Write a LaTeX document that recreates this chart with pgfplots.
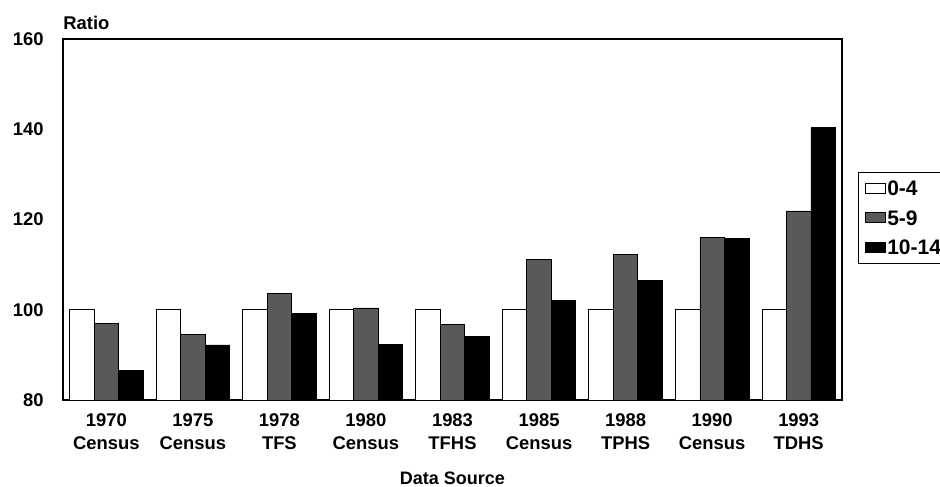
\documentclass[border=0pt]{standalone}
\usepackage{fontspec}
\setmainfont{Liberation Sans}
\usepackage{pgfplots}
\pgfplotsset{compat=1.18}
\usetikzlibrary{calc}
\pgfplotstableread{
x a b c
0 100 97.0 86.5
1 100 94.6 92.2
2 100 103.7 99.1
3 100 100.4 92.4
4 100 96.7 94.1
5 100 111.2 102.0
6 100 112.2 106.4
7 100 116.0 115.7
8 100 121.9 140.3
}\datatable
\pgfplotsset{mylegend/.style={legend image code/.code={\draw[##1, line width=0.4pt] (0pt,-2.5pt) rectangle (10pt,2.5pt);}}}
\begin{document}
\begin{tikzpicture}
\begin{axis}[
  name=ax,
  scale only axis,
  width=389.5pt, height=180.5pt,
  ybar=0pt, bar width=12.25pt,
  xmin=-0.5, xmax=8.5, ymin=80, ymax=160,
  ytick={80,100,...,160},
  xtick={0,...,8},
  xticklabels={{1970\\Census},{1975\\Census},{1978\\TFS},{1980\\Census},{1983\\TFHS},{1985\\Census},{1988\\TPHS},{1990\\Census},{1993\\TDHS}},
  major tick length=0pt,
  tick label style={font=\fontsize{9.2}{11.5}\selectfont\bfseries},
  xticklabel style={align=center, anchor=center, inner sep=0pt, yshift=-15.75pt},
  yticklabel style={anchor=east, inner sep=0pt, xshift=-9.5pt},
  /pgf/number format/assume math mode=true,
  axis line style={line width=0.6pt},
  xlabel={Data Source},
  xlabel style={font=\fontsize{9}{11}\selectfont\bfseries, at={(axis description cs:0.5,0)}, anchor=center, yshift=-39pt},
  legend style={at={(1,1)}, anchor=north west, xshift=8pt, yshift=-66.5pt, draw=black, line width=0.5pt, inner xsep=3.2pt, inner ysep=3.4pt, row sep=5.6pt, font=\fontsize{10.5}{11}\selectfont\bfseries, nodes={inner sep=0.8pt, text height=7.5pt, text depth=0pt, anchor=west}},
  legend cell align=left,
]
\addplot[draw=black, line width=0.4pt, fill=white, mylegend] table[x=x, y=a] {\datatable};
\addplot[draw=black, line width=0.4pt, fill=black!65, mylegend] table[x=x, y=b] {\datatable};
\addplot[draw=black, line width=0.4pt, fill=black, mylegend] table[x=x, y=c] {\datatable};
\legend{0-4,5-9,10-14}
\end{axis}
\node[anchor=base west, inner sep=0pt, font=\fontsize{9.2}{11}\selectfont\bfseries, yshift=4.5pt] at (ax.north west) {Ratio};
\pgfresetboundingbox
\path[use as bounding box] ($(ax.south west)+(-31.5pt,-43.5pt)$) rectangle ($(ax.north east)+(49pt,19.5pt)$);
\end{tikzpicture}
\end{document}
